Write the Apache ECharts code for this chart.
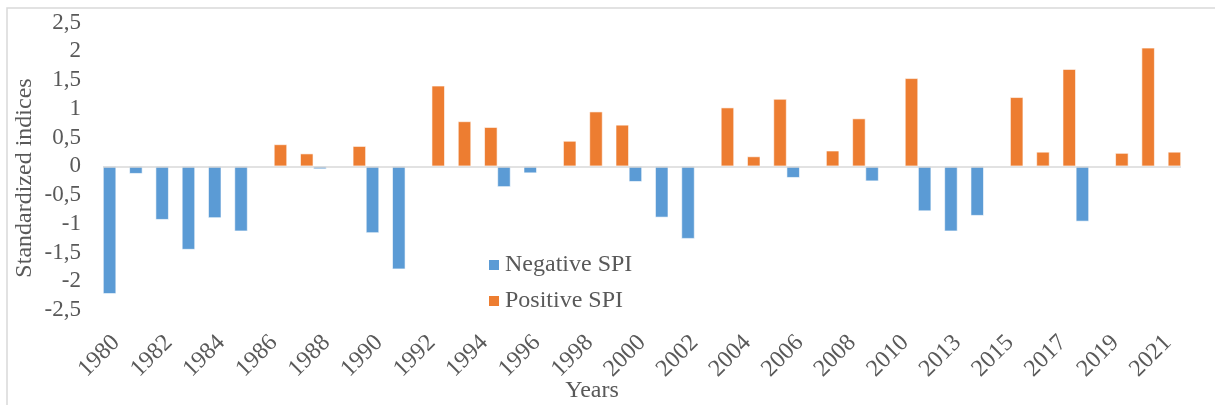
<!DOCTYPE html>
<html>
<head>
<meta charset="utf-8">
<script src="https://cdn.jsdelivr.net/npm/echarts@6/dist/echarts.min.js"></script>
<style>
  html, body { margin: 0; padding: 0; background: #fff; }
  #main { width: 1215px; height: 405px; }
</style>
</head>
<body>
<div id="main"></div>
<script>
// categories (one year between 2010 and 2013 is missing in the source)
const years = ['1980','1981','1982','1983','1984','1985','1986','1987','1988','1989',
  '1990','1991','1992','1993','1994','1995','1996','1997','1998','1999',
  '2000','2001','2002','2003','2004','2005','2006','2007','2008','2009',
  '2010','2012','2013','2014','2015','2016','2017','2018','2019','2020','2021']

// negative SPI (null where the year is positive)
const negativeSpi = [-2.22,-0.13,-0.93,-1.45,-0.90,-1.13,null,null,-0.05,null,
  -1.16,-1.79,null,null,null,-0.36,-0.12,null,null,null,
  -0.27,-0.89,-1.26,null,null,null,-0.20,null,null,-0.26,
  null,-0.78,-1.13,-0.86,null,null,null,-0.96,null,null,null]

// positive SPI (null where the year is negative)
const positiveSpi = [null,null,null,null,null,null,0.38,0.22,null,0.35,
  null,null,1.40,0.78,0.68,null,null,0.44,0.95,0.72,
  null,null,null,1.02,0.17,1.17,null,0.27,0.83,null,
  1.53,null,null,null,1.20,0.25,1.69,null,0.23,2.06,0.25]

const yTicks = [-2.5, 2.5, 0.5]  // min, max, step

const serif = 'Liberation Serif'
const textGray = '#595959'

let chart = echarts.init(document.getElementById('main'))

let option = {
  animation: false,
  grid: { left: 103, right: 34, top: 22.5, bottom: 95 },
  legend: {
    orient: 'vertical',
    left: 482,
    top: 248,
    icon: 'rect',
    itemWidth: 12,
    itemHeight: 12,
    itemGap: 12,
    textStyle: { fontFamily: serif, fontSize: 24, color: textGray },
    data: ['Negative SPI', 'Positive SPI']
  },
  xAxis: {
    type: 'category',
    data: years,
    axisLine: { show: false },
    axisTick: { show: false },
    axisLabel: {
      interval: 1,
      rotate: 45,
      margin: 29,
      fontFamily: serif,
      fontSize: 24,
      color: textGray
    }
  },
  yAxis: {
    type: 'value',
    min: yTicks[0],
    max: yTicks[1],
    interval: yTicks[2],
    axisLine: { show: false },
    axisTick: { show: false },
    splitLine: { show: false },
    axisLabel: {
      margin: 22,
      fontFamily: serif,
      fontSize: 23,
      color: textGray,
      formatter: v => String(v).replace('.', ',')
    }
  },
  graphic: [
    { // outer chart border
      type: 'rect',
      shape: { x: 7, y: 8, width: 1240, height: 420 },
      style: { fill: 'none', stroke: '#d9d9d9', lineWidth: 1.5 },
      silent: true
    },
    {
      type: 'text',
      x: 25, y: 178,
      rotation: Math.PI / 2,
      style: {
        text: 'Standardized indices',
        fontFamily: serif, fontSize: 24, fill: textGray,
        align: 'center', verticalAlign: 'middle'
      }
    },
    {
      type: 'text',
      x: 592, y: 391,
      style: {
        text: 'Years',
        fontFamily: serif, fontSize: 24, fill: textGray,
        align: 'center', verticalAlign: 'middle'
      }
    }
  ],
  series: [
    {
      name: 'Negative SPI',
      type: 'bar',
      data: negativeSpi,
      barGap: '0%',
      barCategoryGap: '0%',
      itemStyle: { color: '#5b9bd5', borderColor: '#fff', borderWidth: 0.6 },
      markLine: {
        silent: true,
        symbol: 'none',
        label: { show: false },
        lineStyle: { color: '#d9d9d9', width: 1.5, type: 'solid' },
        data: [{ yAxis: 0 }]
      }
    },
    {
      name: 'Positive SPI',
      type: 'bar',
      data: positiveSpi,
      barGap: '0%',
      barCategoryGap: '0%',
      itemStyle: { color: '#ed7d31', borderColor: '#fff', borderWidth: 0.6 }
    }
  ]
}

chart.setOption(option)
</script>
</body>
</html>
